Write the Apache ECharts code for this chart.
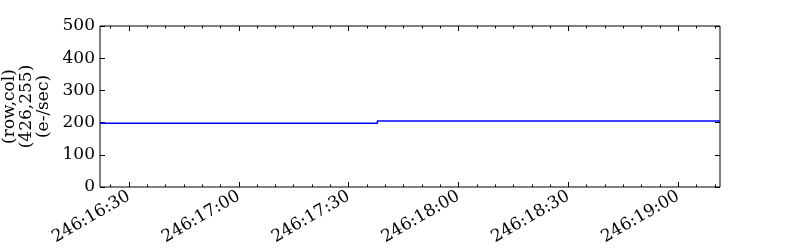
<!DOCTYPE html>
<html>
<head>
<meta charset="utf-8">
<script src="https://cdn.jsdelivr.net/npm/echarts@6/dist/echarts.min.js"></script>
<style>html,body{margin:0;padding:0;background:#fff}#c{width:800px;height:250px}</style>
</head>
<body>
<div id="c"></div>
<script>
// time in minutes of day 246 (DOY:HH:MM)
const timeMin = [982.1, 1057.85, 1057.85, 1151.4];
const rate = [198, 198, 205, 205];
const xTickLabels = ['246:16:30', '246:17:00', '246:17:30', '246:18:00', '246:18:30', '246:19:00'];
const yTicks = [0, 100, 200, 300, 400, 500];
const yTitle = ['(row,col)', '(426,255)', '(e-/sec)'];

function parseLabel(s) { const p = s.split(':'); return (+p[1]) * 60 + (+p[2]); }
const majorVals = xTickLabels.map(parseLabel);
const minorVals = [];
for (let v = Math.ceil(timeMin[0] / 5) * 5; v <= timeMin[timeMin.length - 1]; v += 5) minorVals.push(v);
function fmt(v) {
  const h = Math.floor(v / 60), m = Math.round(v - h * 60);
  return '246:' + String(h).padStart(2, '0') + ':' + String(m).padStart(2, '0');
}
const xmin = timeMin[0], xmax = timeMin[timeMin.length - 1];
const font = 'DejaVu Serif';
const fs = 17;
const chart = echarts.init(document.getElementById('c'), null, {renderer: 'canvas'});
const baseX = {type: 'value', min: xmin, max: xmax, splitLine: {show: false}, axisLine: {show: false}};
chart.setOption({
  animation: false,
  grid: {left: 100, right: 80, top: 26, bottom: 63, containLabel: false, outerBoundsMode: 'none',
    show: true, borderColor: '#000', borderWidth: 1, backgroundColor: 'transparent'},
  xAxis: [
    Object.assign({}, baseX, {position: 'bottom', gridIndex: 0,
      axisTick: {show: true, inside: true, length: 5, customValues: majorVals, lineStyle: {color: '#000'}},
      axisLabel: {show: true, customValues: majorVals, formatter: fmt, rotate: 30, margin: 8, color: '#000', fontFamily: font, fontSize: fs}}),
    Object.assign({}, baseX, {position: 'bottom', gridIndex: 0,
      axisTick: {show: true, inside: true, length: 2.5, customValues: minorVals, lineStyle: {color: '#000'}},
      axisLabel: {show: false}}),
    Object.assign({}, baseX, {position: 'top', gridIndex: 0,
      axisTick: {show: true, inside: true, length: 5, customValues: majorVals, lineStyle: {color: '#000'}},
      axisLabel: {show: false}}),
    Object.assign({}, baseX, {position: 'top', gridIndex: 0,
      axisTick: {show: true, inside: true, length: 2.5, customValues: minorVals, lineStyle: {color: '#000'}},
      axisLabel: {show: false}})
  ],
  yAxis: [
    {type: 'value', min: yTicks[0], max: yTicks[yTicks.length - 1], interval: yTicks[1] - yTicks[0], position: 'left',
      splitLine: {show: false}, axisLine: {show: false},
      axisTick: {show: true, inside: true, length: 5, lineStyle: {color: '#000'}},
      axisLabel: {margin: 5, color: '#000', fontFamily: font, fontSize: fs},
      name: yTitle.join('\n'), nameLocation: 'middle', nameRotate: 90, nameGap: 40,
      nameTextStyle: {color: '#000', fontFamily: font, fontSize: fs, lineHeight: 17, align: 'center'}},
    {type: 'value', min: yTicks[0], max: yTicks[yTicks.length - 1], interval: yTicks[1] - yTicks[0], position: 'right',
      splitLine: {show: false}, axisLine: {show: false},
      axisTick: {show: true, inside: true, length: 5, lineStyle: {color: '#000'}},
      axisLabel: {show: false}}
  ],
  series: [{
    type: 'line', xAxisIndex: 0, yAxisIndex: 0,
    data: timeMin.map((t, i) => [t, rate[i]]),
    showSymbol: false, symbol: 'none',
    lineStyle: {color: '#0000ff', width: 1.5}
  }]
});
</script>
</body>
</html>
